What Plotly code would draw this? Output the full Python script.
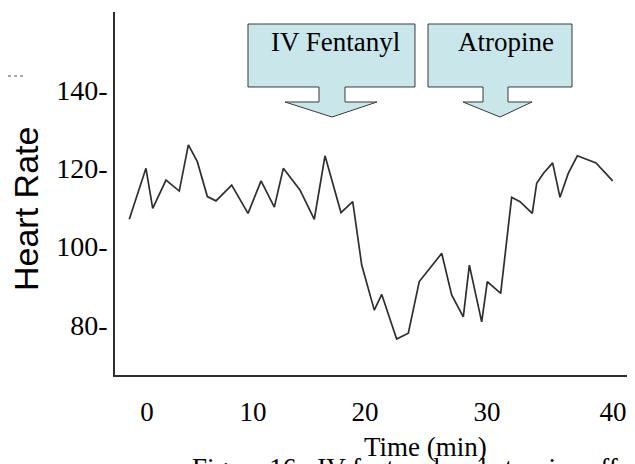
import plotly.graph_objects as go

# ---- data ----
time_min = [-1.52, -0.09, 0.49, 1.63, 2.77, 3.55, 4.32, 5.18, 5.92, 7.27, 8.67,
            9.79, 10.93, 11.70, 13.13, 14.36, 15.28, 16.65, 17.66, 18.43, 19.51,
            20.15, 21.43, 22.43, 23.37, 24.29, 25.30, 26.15, 27.15, 27.67, 28.73,
            29.21, 30.36, 31.30, 32.02, 33.07, 33.45, 34.02, 34.82, 35.45, 36.16,
            36.94, 38.54, 39.97]
heart_rate = [107.0, 120.0, 109.8, 117.0, 114.2, 126.0, 121.7, 112.8, 111.7, 115.7,
              108.5, 116.8, 110.1, 120.0, 114.5, 107.0, 123.2, 108.7, 111.5, 95.3,
              83.8, 87.8, 76.4, 77.9, 91.1, 94.5, 98.3, 87.7, 82.1, 95.3, 80.8,
              91.1, 88.1, 112.6, 111.5, 108.5, 116.2, 118.7, 121.4, 112.6, 118.7,
              123.2, 121.4, 116.8]
y_tick_vals = [80, 100, 120, 140]
y_tick_text = ["80-", "100-", "120-", "140-"]
x_tick_vals = [0, 9.10, 18.71, 29.18, 40]
x_tick_text = ["0", "10", "20", "30", "40"]
event_labels = ["IV Fentanyl", "Atropine"]

# ---- layout geometry (window pixels; page body has an 8px margin) ----
OFF = 8
WIN_W, WIN_H = 635, 464
W, H = WIN_W - OFF, WIN_H - OFF
PL, PR, PT, PB = 115, 632, 12, 375          # plot area in window pixels
L, R, T, B = PL - OFF, WIN_W - PR, PT - OFF, WIN_H - PB
PW, PH = PR - PL, PB - PT


def px(x):
    return (x - PL) / PW


def py(y):
    return (PB - y) / PH


fig = go.Figure()
fig.add_trace(go.Scatter(x=time_min, y=heart_rate, mode="lines",
                         line=dict(color="#2e2e2e", width=1.7),
                         hoverinfo="x+y", showlegend=False))

serif = "Liberation Serif, Times New Roman, serif"
sans = "Liberation Sans, Arial, sans-serif"


def callout(x0, x1, s0, s1, w0, w1, tip):
    top, bot, sb, tipy = 24, 87, 102, 117
    pts = [(x0, top), (x1, top), (x1, bot), (s1, bot), (s1, sb), (w1, sb),
           (tip, tipy), (w0, sb), (s0, sb), (s0, bot), (x0, bot)]
    path = "M " + " L ".join(f"{px(a):.5f},{py(b):.5f}" for a, b in pts) + " Z"
    return dict(type="path", xref="paper", yref="paper", path=path,
                fillcolor="#C9E6EB", line=dict(color="#3a3a3a", width=1))


shapes = [
    callout(248, 415, 319, 345, 285, 377, 332),
    callout(428, 572, 483, 508, 463, 532, 500),
    dict(type="line", xref="paper", yref="paper", x0=px(OFF), x1=px(26),
         y0=py(76), y1=py(76), line=dict(color="#555555", width=1.2, dash="dot")),
]


def note(text, x, y, size, family, angle=0, xanchor="center", yanchor="middle"):
    return dict(text=text, x=px(x), y=py(y), xref="paper", yref="paper",
                xanchor=xanchor, yanchor=yanchor, textangle=angle,
                showarrow=False, font=dict(family=family, size=size, color="black"))


annotations = [
    note(event_labels[0], 335, 42, 27, serif),
    note(event_labels[1], 506, 42, 27, serif),
    note("Heart Rate", 26, 209, 34, sans, angle=-90),
    note("Time (min)", 425, 447, 27, serif),
    note("Figure 16:  IV fentanyl and atropine effects on heart rate",
         190, 451, 27, serif, xanchor="left", yanchor="top"),
]

fig.update_layout(
    width=W, height=H,
    margin=dict(l=L, r=R, t=T, b=B, pad=0),
    paper_bgcolor="white", plot_bgcolor="white",
    shapes=shapes, annotations=annotations,
    xaxis=dict(range=[(PL - 147) / 11.65, (PR - 147) / 11.65],
               tickvals=x_tick_vals, ticktext=x_tick_text,
               showline=True, linecolor="#2e2e2e", linewidth=1.6,
               showgrid=False, zeroline=False, ticks="",
               ticklabelstandoff=12,
               tickfont=dict(family=serif, size=27, color="black")),
    yaxis=dict(range=[140 - (PB - 90) / 3.917, 140 + (90 - PT) / 3.917],
               tickvals=y_tick_vals, ticktext=y_tick_text,
               showline=True, linecolor="#2e2e2e", linewidth=1.6,
               showgrid=False, zeroline=False, ticks="",
               ticklabelstandoff=0,
               tickfont=dict(family=serif, size=28, color="black")),
)

fig.write_html("out.html")
